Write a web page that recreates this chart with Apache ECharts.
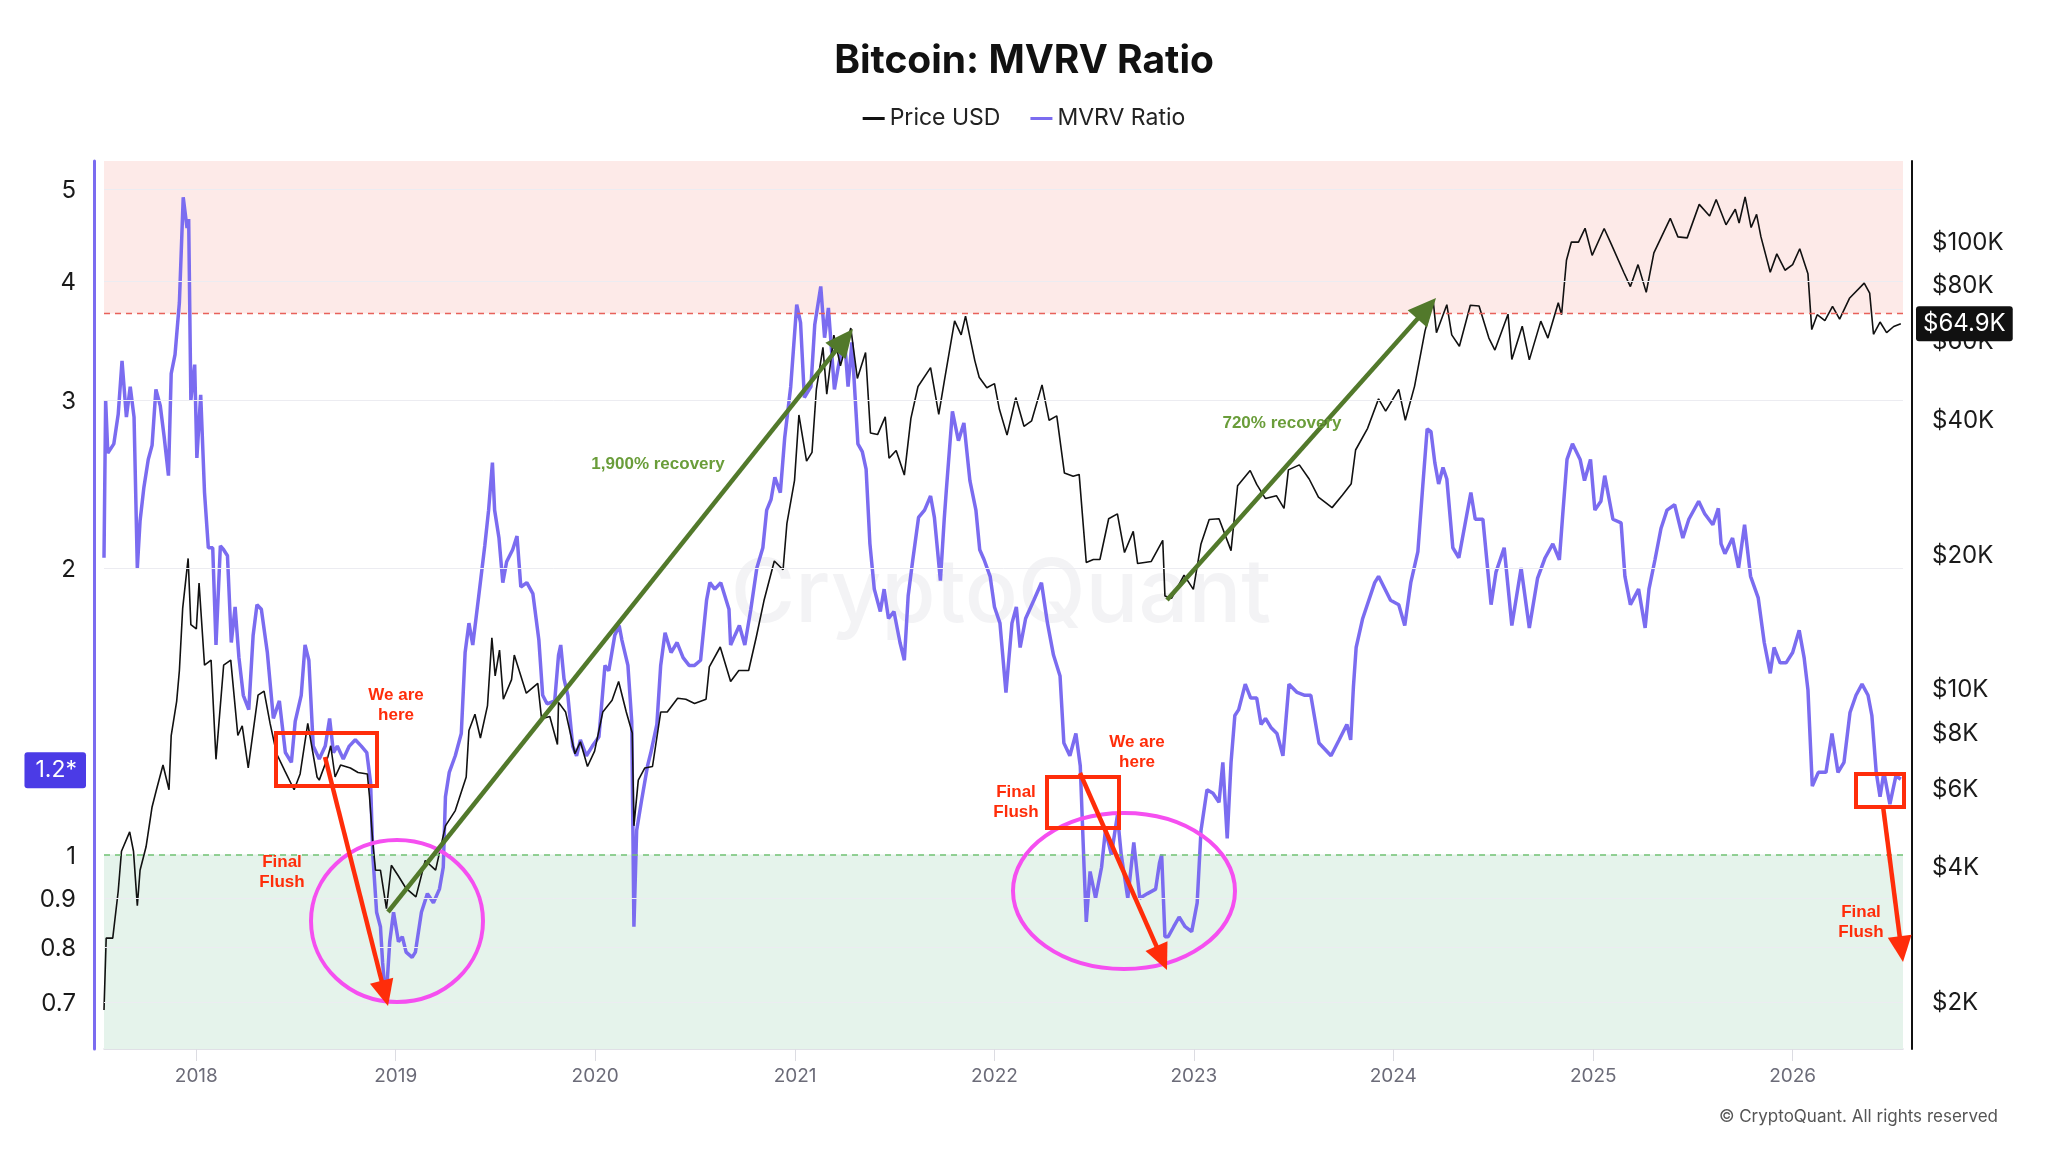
<!DOCTYPE html>
<html><head><meta charset="utf-8">
<script src="https://cdn.jsdelivr.net/npm/echarts@6/dist/echarts.min.js"></script>
<style>html,body{margin:0;padding:0;background:#fff}#c{width:2048px;height:1152px}</style>
</head><body><div id="c"></div>
<script>
// ---------- DATA ----------
const mvrvDates = ['2017-07-16','2017-07-19','2017-07-23','2017-08-03','2017-08-11','2017-08-18','2017-08-26','2017-09-02','2017-09-09','2017-09-15','2017-09-20','2017-09-27','2017-10-05','2017-10-12','2017-10-19','2017-10-27','2017-11-03','2017-11-11','2017-11-16','2017-11-23','2017-12-01','2017-12-08','2017-12-15','2017-12-18','2017-12-22','2017-12-29',
'2018-01-02','2018-01-09','2018-01-16','2018-01-23','2018-01-31','2018-02-06','2018-02-14','2018-02-20','2018-02-27','2018-03-06','2018-03-13','2018-03-20','2018-03-28','2018-04-07','2018-04-15','2018-04-22','2018-04-30','2018-05-11','2018-05-22','2018-06-02','2018-06-13','2018-06-24','2018-07-01','2018-07-12','2018-07-19','2018-07-26','2018-08-03','2018-08-14','2018-08-25','2018-09-02','2018-09-09','2018-09-16','2018-09-27','2018-10-08','2018-10-19','2018-10-30','2018-11-09','2018-11-16','2018-11-20','2018-11-27','2018-12-04','2018-12-08','2018-12-14','2018-12-21','2018-12-28',
'2019-01-06','2019-01-13','2019-01-20','2019-01-31','2019-02-06','2019-02-17','2019-02-28','2019-03-11','2019-03-22','2019-03-29','2019-04-02','2019-04-09','2019-04-20','2019-05-01','2019-05-08','2019-05-15','2019-05-22','2019-06-02','2019-06-13','2019-06-20','2019-06-27','2019-07-01','2019-07-09','2019-07-16','2019-07-23','2019-08-03','2019-08-11','2019-08-18','2019-08-29','2019-09-09','2019-09-20','2019-09-27','2019-10-05','2019-10-19','2019-10-26','2019-10-30','2019-11-05','2019-11-12','2019-11-21','2019-11-28','2019-12-05','2019-12-16','2019-12-27',
'2020-01-08','2020-01-19','2020-01-26','2020-02-06','2020-02-14','2020-02-19','2020-03-01','2020-03-08','2020-03-12','2020-03-17','2020-03-26','2020-04-06','2020-04-12','2020-04-23','2020-04-30','2020-05-08','2020-05-19','2020-05-30','2020-06-10','2020-06-21','2020-07-01','2020-07-12','2020-07-23','2020-07-29','2020-08-07','2020-08-18','2020-09-02','2020-09-05','2020-09-13','2020-09-21','2020-10-01','2020-10-12','2020-10-23','2020-11-03','2020-11-10','2020-11-18','2020-11-25','2020-12-05','2020-12-13','2020-12-24',
'2021-01-04','2021-01-11','2021-01-18','2021-01-30','2021-02-06','2021-02-17','2021-02-24','2021-03-03','2021-03-14','2021-03-21','2021-04-01','2021-04-08','2021-04-15','2021-04-26','2021-05-04','2021-05-11','2021-05-18','2021-05-26','2021-06-06','2021-06-13','2021-06-21','2021-07-01','2021-07-12','2021-07-20','2021-07-27','2021-08-04','2021-08-15','2021-08-26','2021-09-06','2021-09-13','2021-09-24','2021-10-01','2021-10-05','2021-10-16','2021-10-27','2021-11-06','2021-11-17','2021-11-28','2021-12-05','2021-12-13','2021-12-24',
'2022-01-01','2022-01-11','2022-01-22','2022-02-02','2022-02-10','2022-02-17','2022-02-27','2022-03-14','2022-03-28','2022-04-08','2022-04-19','2022-05-01','2022-05-08','2022-05-19','2022-05-30','2022-06-07','2022-06-14','2022-06-18','2022-06-25','2022-07-05','2022-07-16','2022-07-23','2022-08-03','2022-08-14','2022-08-21','2022-09-02','2022-09-13','2022-09-24','2022-10-08','2022-10-23','2022-10-30','2022-11-03','2022-11-09','2022-11-15','2022-11-25','2022-12-05','2022-12-16','2022-12-28',
'2023-01-07','2023-01-14','2023-01-25','2023-02-05','2023-02-16','2023-02-23','2023-03-03','2023-03-10','2023-03-17','2023-03-24','2023-04-05','2023-04-15','2023-04-26','2023-05-04','2023-05-12','2023-05-22','2023-06-02','2023-06-13','2023-06-24','2023-07-09','2023-07-23','2023-08-03','2023-08-14','2023-08-18','2023-09-09','2023-09-24','2023-10-08','2023-10-15','2023-10-20','2023-10-25','2023-11-06','2023-11-28','2023-12-05','2023-12-27',
'2024-01-11','2024-01-22','2024-02-02','2024-02-15','2024-02-24','2024-03-03','2024-03-10','2024-03-17','2024-03-24','2024-04-01','2024-04-08','2024-04-19','2024-04-30','2024-05-22','2024-05-30','2024-06-13','2024-06-28','2024-07-07','2024-07-22','2024-08-05','2024-08-22','2024-09-06','2024-09-21','2024-10-05','2024-10-19','2024-10-31','2024-11-06','2024-11-14','2024-11-24','2024-12-08','2024-12-16','2024-12-27',
'2025-01-04','2025-01-15','2025-01-22','2025-02-06','2025-02-21','2025-02-28','2025-03-10','2025-03-25','2025-04-06','2025-04-13','2025-04-24','2025-05-05','2025-05-16','2025-05-30','2025-06-14','2025-06-25','2025-07-13','2025-07-24','2025-08-08','2025-08-18','2025-08-23','2025-08-30','2025-09-13','2025-09-24','2025-10-05','2025-10-16','2025-10-30','2025-11-10','2025-11-21','2025-11-28','2025-12-09','2025-12-20',
'2026-01-01','2026-01-13','2026-01-22','2026-01-29','2026-02-06','2026-02-17','2026-03-03','2026-03-14','2026-03-25','2026-04-05','2026-04-16','2026-04-27','2026-05-08','2026-05-19','2026-05-26','2026-06-03','2026-06-10','2026-06-17','2026-06-28','2026-07-09','2026-07-18'];
const mvrvValues = [2.05,3.0,2.64,2.7,2.9,3.3,2.88,3.1,2.88,2.0,2.24,2.43,2.6,2.69,3.08,2.96,2.75,2.5,3.2,3.35,3.8,4.9,4.55,4.65,3.0,3.27,
2.61,3.04,2.4,2.1,2.1,1.66,2.11,2.09,2.06,1.67,1.82,1.61,1.47,1.42,1.7,1.83,1.81,1.63,1.39,1.45,1.28,1.25,1.38,1.47,1.66,1.6,1.30,1.26,1.30,1.39,1.28,1.30,1.26,1.30,1.32,1.30,1.28,1.19,1.0,0.87,0.84,0.77,0.70,0.81,0.87,
0.81,0.82,0.79,0.78,0.79,0.87,0.91,0.89,0.92,0.97,1.15,1.22,1.27,1.34,1.63,1.75,1.66,1.87,2.11,2.3,2.58,2.3,2.15,1.93,2.03,2.09,2.16,1.91,1.93,1.88,1.68,1.47,1.44,1.45,1.62,1.66,1.53,1.47,1.30,1.27,1.32,1.27,1.30,
1.33,1.58,1.56,1.70,1.74,1.68,1.58,1.38,0.84,1.06,1.14,1.24,1.28,1.37,1.58,1.71,1.63,1.67,1.61,1.58,1.58,1.6,1.85,1.93,1.90,1.93,1.81,1.66,1.70,1.74,1.66,1.81,2.0,2.1,2.3,2.36,2.49,2.4,2.74,3.1,
3.78,3.62,3.02,3.1,3.6,3.95,3.49,3.75,3.08,3.25,3.5,3.1,3.45,2.7,2.65,2.54,2.12,1.9,1.8,1.9,1.77,1.8,1.67,1.6,1.87,2.03,2.26,2.3,2.38,2.26,1.94,2.25,2.42,2.92,2.72,2.84,2.47,2.30,2.09,2.04,1.96,
1.82,1.75,1.48,1.75,1.82,1.65,1.77,1.85,1.93,1.75,1.62,1.54,1.31,1.27,1.34,1.24,0.97,0.85,0.96,0.90,0.97,1.06,1.0,1.10,1.0,0.9,1.03,0.90,0.91,0.92,0.98,1.0,0.82,0.82,0.84,0.86,0.84,0.83,
0.89,1.06,1.17,1.16,1.135,1.25,1.04,1.25,1.40,1.42,1.51,1.46,1.46,1.37,1.39,1.36,1.34,1.27,1.51,1.48,1.47,1.47,1.35,1.31,1.27,1.32,1.37,1.32,1.5,1.65,1.77,1.93,1.96,1.85,
1.83,1.74,1.93,2.08,2.44,2.80,2.78,2.58,2.45,2.55,2.48,2.1,2.05,2.4,2.25,2.25,1.83,1.98,2.1,1.74,2.0,1.73,1.95,2.05,2.12,2.04,2.27,2.6,2.7,2.6,2.47,2.6,
2.3,2.35,2.5,2.25,2.23,1.96,1.83,1.9,1.73,1.9,2.04,2.2,2.3,2.33,2.15,2.25,2.35,2.28,2.22,2.31,2.12,2.07,2.15,2.0,2.22,1.96,1.86,1.67,1.55,1.65,1.59,1.59,
1.63,1.72,1.61,1.49,1.18,1.22,1.22,1.34,1.22,1.25,1.41,1.47,1.51,1.47,1.40,1.22,1.15,1.22,1.13,1.21,1.20];

const priceDates = ['2017-07-16','2017-07-20','2017-08-01','2017-08-11','2017-08-17','2017-09-01','2017-09-08','2017-09-15','2017-09-20','2017-10-01','2017-10-12','2017-10-20','2017-11-01','2017-11-12','2017-11-16','2017-11-26','2017-12-01','2017-12-07','2017-12-17','2017-12-22',
'2018-01-01','2018-01-06','2018-01-16','2018-01-28','2018-02-06','2018-02-20','2018-03-05','2018-03-18','2018-03-26','2018-04-06','2018-04-24','2018-05-05','2018-05-16','2018-05-28','2018-06-12','2018-06-29','2018-07-10','2018-07-24','2018-08-10','2018-08-14','2018-08-30','2018-09-04','2018-09-12','2018-09-22','2018-10-10','2018-10-24','2018-11-10','2018-11-14','2018-11-20','2018-11-25','2018-12-04','2018-12-15','2018-12-24',
'2019-01-05','2019-01-20','2019-02-07','2019-02-24','2019-03-15','2019-04-02','2019-04-20','2019-05-10','2019-05-15','2019-05-26','2019-06-05','2019-06-18','2019-06-26','2019-07-02','2019-07-10','2019-07-17','2019-08-01','2019-08-06','2019-08-28','2019-09-18','2019-09-25','2019-10-10','2019-10-24','2019-10-26','2019-11-08','2019-11-25','2019-12-05','2019-12-18','2019-12-31',
'2020-01-15','2020-02-01','2020-02-13','2020-02-27','2020-03-09','2020-03-12','2020-03-20','2020-04-01','2020-04-15','2020-04-30','2020-05-12','2020-05-31','2020-06-15','2020-07-01','2020-07-22','2020-07-28','2020-08-17','2020-09-05','2020-09-20','2020-10-08','2020-10-22','2020-11-05','2020-11-24','2020-12-10','2020-12-17','2020-12-31',
'2021-01-08','2021-01-22','2021-02-01','2021-02-09','2021-02-21','2021-02-28','2021-03-13','2021-03-25','2021-04-13','2021-04-25','2021-05-10','2021-05-19','2021-06-01','2021-06-15','2021-06-22','2021-07-05','2021-07-20','2021-08-01','2021-08-14','2021-09-06','2021-09-21','2021-10-01','2021-10-20','2021-11-01','2021-11-09','2021-11-26','2021-12-04','2021-12-18',
'2022-01-01','2022-01-10','2022-01-24','2022-02-09','2022-02-24','2022-03-10','2022-03-29','2022-04-11','2022-04-25','2022-05-09','2022-05-25','2022-06-05','2022-06-18','2022-07-01','2022-07-13','2022-07-29','2022-08-14','2022-08-27','2022-09-12','2022-09-20','2022-10-15','2022-11-05','2022-11-09','2022-11-21','2022-12-14','2022-12-31',
'2023-01-14','2023-01-29','2023-02-16','2023-03-10','2023-03-22','2023-04-14','2023-04-26','2023-05-12','2023-06-01','2023-06-15','2023-06-23','2023-07-13','2023-07-31','2023-08-17','2023-09-11','2023-09-30','2023-10-16','2023-10-24','2023-11-15','2023-12-05','2023-12-18',
'2024-01-11','2024-01-23','2024-02-09','2024-02-28','2024-03-14','2024-03-20','2024-04-08','2024-04-17','2024-05-01','2024-05-21','2024-06-06','2024-06-24','2024-07-05','2024-07-29','2024-08-05','2024-08-24','2024-09-06','2024-09-27','2024-10-10','2024-10-29','2024-11-04','2024-11-13','2024-11-22','2024-12-05','2024-12-17','2024-12-30',
'2025-01-21','2025-02-03','2025-02-26','2025-03-10','2025-03-24','2025-04-08','2025-04-22','2025-05-10','2025-05-22','2025-06-05','2025-06-22','2025-07-14','2025-08-02','2025-08-14','2025-09-01','2025-09-18','2025-09-25','2025-10-06','2025-10-17','2025-10-27','2025-11-04','2025-11-21','2025-12-03','2025-12-18',
'2026-01-01','2026-01-14','2026-01-29','2026-02-05','2026-02-15','2026-03-01','2026-03-15','2026-03-28','2026-04-15','2026-05-12','2026-05-22','2026-05-29','2026-06-10','2026-06-22','2026-07-05','2026-07-18'];
const priceValues = [1900,2750,2750,3500,4300,4750,4300,3250,3900,4400,5400,5900,6700,5900,7800,9300,10900,15000,19400,13800,
13500,17100,11200,11500,6900,11200,11500,7800,8200,6600,9600,9800,8300,7100,6500,5900,6400,8300,6300,6200,7000,7400,6300,6700,6600,6450,6400,5700,4500,3900,3900,3200,4000,
3800,3550,3400,4100,3900,4900,5300,6300,8000,8700,7700,9100,12900,10600,12100,9400,10400,11800,9700,10200,8500,8600,7450,9250,8800,7100,7550,6650,7200,
8800,9350,10300,8800,7900,4900,6200,6600,6650,8800,8800,9450,9400,9200,9400,11100,12300,10300,10900,10900,12950,15600,19150,18300,23200,29000,
40600,32000,33500,46400,57500,45200,61200,52300,63500,49000,56000,37000,36700,40200,32500,33800,29800,39900,47000,51800,40700,48200,65900,61300,67500,53700,49300,46700,
47700,41800,36600,44400,38300,39400,47400,39500,40400,30100,29600,29900,19000,19300,19300,23800,24400,20000,22300,18900,19100,21300,16000,15800,17800,16550,
20900,23700,23800,20200,28200,30500,28400,26400,26800,25100,30600,31400,29200,26600,25200,26900,28500,33900,37900,44100,41400,
46300,39500,47100,62500,73100,62000,71600,61300,57800,71400,71100,60300,56700,68200,54000,64100,53900,65800,60300,72300,68000,90000,98900,98800,106100,92300,
106000,97800,84500,78600,88000,76300,93500,104000,111700,101500,101000,120000,113000,123000,108000,117000,109000,124700,106500,114000,101500,84600,93000,85500,
88000,95500,84000,63000,68000,66000,71000,66500,74000,80000,76000,61500,65500,62000,64000,64900];

const mvrvTicks = [0.7, 0.8, 0.9, 1, 2, 3, 4, 5];
const priceTicks = [2000, 4000, 6000, 8000, 10000, 20000, 40000, 60000, 80000, 100000];
const priceTickLabels = ['$2K','$4K','$6K','$8K','$10K','$20K','$40K','$60K','$80K','$100K'];
const overheatLevel = 3.7;
const undervaluedLevel = 1;
const currentMvrv = 1.2, currentMvrvLabel = '1.2*';
const currentPrice = 64900, currentPriceLabel = '$64.9K';

// ---------- CHART ----------
const PURPLE = '#7b6cf0';
const RED = '#ff2d0a';
const GREEN = '#52792b';
const MAG = '#f54ff0';
const NOLINE = {color: 'rgba(0,0,0,0)', width: 0.01};
const chart = echarts.init(document.getElementById('c'), null, {renderer: 'canvas'});

const Y0MIN = 0.625, Y0MAX = 5.35, Y1MIN = 1554, Y1MAX = 150000;
const YEAR_MS = 365.25 * 86400000;

function arrow(x1, y1, x2, y2, color, w, hl, hw) {
  const dx = x2 - x1, dy = y2 - y1, L = Math.hypot(dx, dy), ux = dx / L, uy = dy / L;
  const bx = x2 - ux * hl, by = y2 - uy * hl, px = -uy, py = ux;
  return [
    {type: 'line', z: 100, shape: {x1: x1, y1: y1, x2: bx + ux * 2, y2: by + uy * 2}, style: {stroke: color, lineWidth: w}},
    {type: 'polygon', z: 100, shape: {points: [[x2, y2], [bx + px * hw, by + py * hw], [bx - px * hw, by - py * hw]]}, style: {fill: color}}
  ];
}
function txt(x, y, text, color, size) {
  return {type: 'text', z: 101, x: x, y: y, style: {text: text, fill: color, font: 'bold ' + size + 'px "Liberation Sans", Arial, sans-serif',
    align: 'center', verticalAlign: 'middle', textAlign: 'center', textVerticalAlign: 'middle', lineHeight: 20}};
}
function rect(x, y, w, h) {
  return {type: 'rect', z: 100, shape: {x: x, y: y, width: w, height: h}, style: {fill: 'none', stroke: RED, lineWidth: 4}};
}
function ell(cx, cy, rx, ry) {
  return {type: 'ellipse', z: 99, shape: {cx: cx, cy: cy, rx: rx, ry: ry}, style: {fill: 'none', stroke: MAG, lineWidth: 4}};
}

const graphics = [
  {type: 'text', z: -1, x: 1001, y: 596, style: {text: 'CryptoQuant', font: '500 88px Inter, sans-serif', fill: 'rgba(160,160,180,0.13)',
    align: 'center', verticalAlign: 'middle', textAlign: 'center', textVerticalAlign: 'middle'}},
  {type: 'text', z: 10, x: 1998, y: 1117, style: {text: '\u00a9 CryptoQuant. All rights reserved', font: '17px Inter, sans-serif', fill: '#555',
    align: 'right', verticalAlign: 'middle', textAlign: 'right', textVerticalAlign: 'middle'}},
  ell(397, 921, 86, 81), ell(1124, 891, 111, 78),
  rect(276, 733, 101, 53), rect(1047, 777, 72, 51), rect(1856, 774, 48, 33),
  ...arrow(325, 757, 388, 1006, RED, 4.5, 26, 12),
  ...arrow(1080, 773, 1167, 970, RED, 4.5, 26, 12),
  ...arrow(1883, 806, 1903, 962, RED, 4.5, 26, 12),
  ...arrow(388, 912, 853, 329, GREEN, 4.5, 28, 13),
  ...arrow(1167, 600, 1436, 298, GREEN, 4.5, 28, 13),
  txt(396, 705, 'We are\nhere', RED, 17),
  txt(1137, 752, 'We are\nhere', RED, 17),
  txt(282, 872, 'Final\nFlush', RED, 17),
  txt(1016, 802, 'Final\nFlush', RED, 17),
  txt(1861, 922, 'Final\nFlush', RED, 17),
  txt(658, 464, '1,900% recovery', '#6a9d3a', 17),
  txt(1282, 423, '720% recovery', '#6a9d3a', 17)
];

const leftLines = mvrvTicks.map(v => ({
  yAxis: v,
  lineStyle: v === undervaluedLevel ? {color: '#72c274', type: [6, 5], width: 1.5} : {color: '#ececf1', type: 'solid', width: 1},
  label: {show: true, position: 'start', distance: 28, offset: [0, 2], formatter: String(v), fontSize: 24, color: '#1a1a1a', fontFamily: 'Inter'}
}));
leftLines.push({yAxis: overheatLevel, lineStyle: {color: '#e8615a', type: [6, 5], width: 1.3}, label: {show: false}});
leftLines.push({yAxis: currentMvrv, lineStyle: NOLINE, label: {show: true, position: 'start', distance: 18, offset: [0, -9], formatter: currentMvrvLabel,
  fontSize: 23, color: '#fff', fontFamily: 'Inter', backgroundColor: '#4b3be6', padding: [7, 9, 6, 11], borderRadius: 3}});

const rightLines = priceTicks.map((v, i) => ({
  yAxis: v, lineStyle: NOLINE,
  label: {show: true, position: 'end', distance: 29, offset: [0, 3], formatter: priceTickLabels[i], fontSize: 24, color: '#1a1a1a', fontFamily: 'Inter'}
}));
rightLines.push({yAxis: currentPrice, lineStyle: NOLINE, label: {show: true, position: 'end', distance: 13, formatter: currentPriceLabel,
  fontSize: 24, color: '#fff', fontFamily: 'Inter', backgroundColor: '#111', padding: [6, 7, 5, 7], borderRadius: 3}});

chart.setOption({
  animation: false,
  backgroundColor: '#fff',
  title: {text: 'Bitcoin: MVRV Ratio', left: 'center', top: 37, textStyle: {fontSize: 39, fontWeight: 'bold', fontFamily: 'Inter', color: '#111'}},
  legend: {top: 102, left: 'center', itemWidth: 22, itemHeight: 3, itemGap: 30,
    textStyle: {fontSize: 23, color: '#222', fontFamily: 'Inter'},
    data: [{name: 'Price USD', icon: 'rect'}, {name: 'MVRV Ratio', icon: 'rect'}]},
  grid: {left: 104, right: 145, top: 161, bottom: 103, containLabel: false},
  xAxis: {
    type: 'time', min: '2017-07-16', max: '2026-07-22',
    minInterval: YEAR_MS, maxInterval: YEAR_MS,
    axisLine: {show: true, lineStyle: {color: '#d6d6de', width: 1.5}},
    axisTick: {show: true, length: 12, lineStyle: {color: '#dcdce2'}},
    axisLabel: {show: true, margin: 18, fontSize: 19, color: '#6b6b78', fontFamily: 'Inter', formatter: '{yyyy}'},
    splitLine: {show: false}
  },
  yAxis: [
    {type: 'log', logBase: 10, min: Y0MIN, max: Y0MAX, position: 'left', offset: 10,
      axisLine: {show: true, lineStyle: {color: PURPLE, width: 3}}, axisLabel: {show: false}, axisTick: {show: false}, splitLine: {show: false}},
    {type: 'log', logBase: 10, min: Y1MIN, max: Y1MAX, position: 'right', offset: 9,
      axisLine: {show: true, lineStyle: {color: '#111', width: 2}}, axisLabel: {show: false}, axisTick: {show: false}, splitLine: {show: false}}
  ],
  series: [
    {name: 'MVRV Ratio', type: 'line', yAxisIndex: 0, z: 3, showSymbol: false, symbol: 'none',
      data: mvrvDates.map((d, i) => [d, mvrvValues[i]]),
      lineStyle: {color: PURPLE, width: 3.5}, itemStyle: {color: PURPLE},
      markArea: {silent: true, data: [
        [{yAxis: overheatLevel, itemStyle: {color: '#fdeae8'}}, {yAxis: Y0MAX}],
        [{yAxis: Y0MIN, itemStyle: {color: '#e5f3eb'}}, {yAxis: undervaluedLevel}]
      ]},
      markLine: {silent: true, symbol: ['none', 'none'], animation: false, data: leftLines}
    },
    {name: 'Price USD', type: 'line', yAxisIndex: 1, z: 4, showSymbol: false, symbol: 'none',
      data: priceDates.map((d, i) => [d, priceValues[i]]),
      lineStyle: {color: '#111', width: 1.6}, itemStyle: {color: '#111'},
      markLine: {silent: true, symbol: ['none', 'none'], animation: false, data: rightLines}
    }
  ],
  graphic: graphics
});
</script></body></html>
